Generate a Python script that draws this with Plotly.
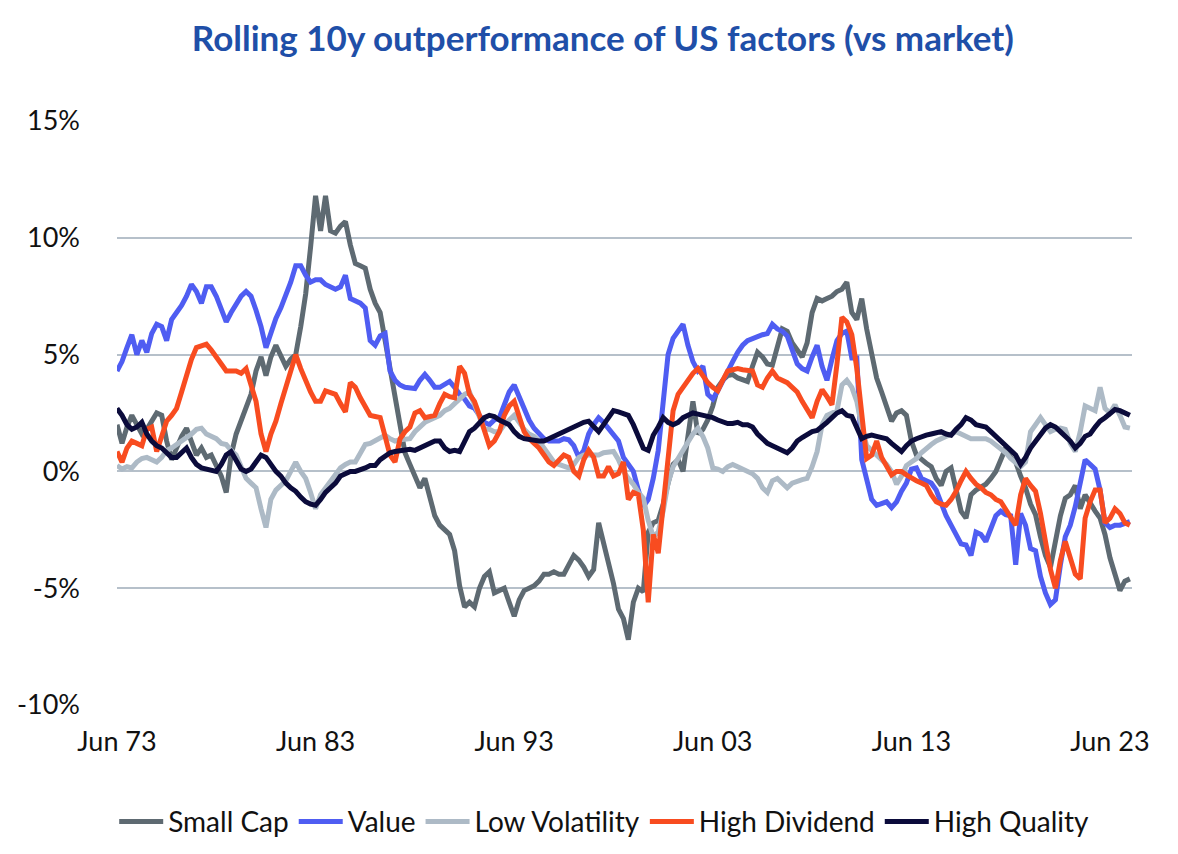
import pandas as pd
import plotly.graph_objects as go

# Quarterly observations, Jun 1973 .. Jun 2024 (values in %)
dates = pd.date_range("1973-06-01", periods=205, freq="3MS")

small_cap = [
    2.0, 1.2, 1.9, 2.4, 2.0, 1.6, 1.8, 2.2, 2.5, 2.4, 1.3, 0.5, 1.0, 1.5, 1.85, 1.2,
    0.7, 1.0, 0.6, 0.7, 0.3, -0.2, -0.9, 0.7, 1.6, 2.2, 2.8, 3.3, 4.3, 4.9, 4.1, 4.9,
    5.4, 4.9, 4.5, 4.8, 5.0, 6.2, 7.6, 9.6, 11.8, 10.3, 11.8, 10.3, 10.2, 10.5, 10.7, 9.7,
    8.9, 8.8, 8.7, 7.8, 7.2, 6.8, 5.6, 4.3, 3.2, 1.9, 0.8, 0.3, -0.2, -0.7, -0.3, -1.0,
    -1.9, -2.3, -2.5, -2.7, -3.4, -4.9, -5.8, -5.6, -5.8, -5.0, -4.5, -4.3, -5.2, -5.1, -5.0, -5.6,
    -6.2, -5.5, -5.1, -5.0, -4.9, -4.7, -4.4, -4.4, -4.3, -4.4, -4.4, -4.0, -3.6, -3.8, -4.1, -4.5,
    -4.2, -2.2, -3.0, -3.9, -4.8, -5.9, -6.3, -7.2, -5.6, -5.0, -5.15, -2.6, -2.2, -2.1, -1.4, -0.5,
    0.3, 0.5, 0.0, 1.5, 3.0, 1.6, 1.8, 2.2, 2.8, 3.6, 3.9, 4.1, 4.15, 4.0, 3.9, 3.85,
    4.5, 5.1, 4.9, 4.6, 4.55, 5.3, 6.1, 6.0, 5.5, 5.2, 4.9, 5.5, 6.8, 7.4, 7.3, 7.4,
    7.5, 7.7, 7.8, 8.1, 6.8, 6.5, 7.4, 6.1, 4.9, 4.0, 3.4, 2.8, 2.15, 2.5, 2.6, 2.4,
    1.3, 0.7, 0.5, 0.35, 0.2, -0.3, -0.6, 0.0, 0.15, -0.8, -1.7, -2.0, -1.0, -0.8, -0.7, -0.55,
    -0.3, 0.0, 0.5, 1.0, 0.6, 0.4, -0.2, -0.7, -1.4, -1.85, -2.8, -3.6, -4.1, -3.0, -1.9, -1.15,
    -1.0, -0.6, -1.6, -1.0, -1.4, -1.7, -2.0, -2.7, -3.7, -4.5, -5.1, -4.7, -4.6,
]

value = [
    4.3, 4.7, 5.3, 5.85, 5.0, 5.6, 5.1, 5.9, 6.3, 6.2, 5.6, 6.5, 6.8, 7.1, 7.5, 8.0,
    7.7, 7.2, 7.9, 7.9, 7.5, 7.0, 6.4, 6.8, 7.2, 7.5, 7.7, 7.5, 6.9, 6.2, 5.3, 6.0,
    6.55, 7.0, 7.55, 8.1, 8.8, 8.8, 8.4, 8.1, 8.2, 8.2, 8.0, 7.9, 7.8, 7.9, 8.4, 7.4,
    7.3, 7.2, 7.0, 5.6, 5.4, 5.8, 5.9, 4.3, 3.9, 3.7, 3.6, 3.55, 3.55, 3.9, 4.15, 3.9,
    3.6, 3.6, 3.7, 3.85, 3.6, 3.3, 3.1, 2.8, 2.7, 2.4, 2.1, 2.0, 2.2, 2.3, 2.9, 3.4,
    3.7, 3.2, 2.7, 2.2, 1.85, 1.6, 1.4, 1.3, 1.3, 1.3, 1.4, 1.35, 1.1, 0.6, 0.9, 1.6,
    2.0, 2.3, 2.1, 1.85, 1.6, 1.3, 0.6, 0.3, 0.0, -0.8, -1.5, -1.2, -0.3, 0.9, 3.0, 5.0,
    5.7, 6.0, 6.3, 5.4, 4.7, 4.3, 4.5, 3.3, 3.1, 3.45, 3.9, 4.3, 4.7, 5.1, 5.4, 5.6,
    5.7, 5.8, 5.85, 5.9, 6.3, 6.1, 6.0, 5.8, 5.2, 4.6, 4.4, 4.3, 4.9, 5.4, 4.5, 3.9,
    4.8, 5.6, 5.9, 6.0, 4.85, 4.85, 0.5, -0.3, -1.2, -1.45, -1.35, -1.3, -1.55, -1.3, -0.85, -0.5,
    0.1, 0.15, -0.3, -0.4, -0.5, -0.8, -1.4, -1.9, -2.3, -2.7, -3.1, -3.15, -3.6, -2.6, -2.7, -3.0,
    -2.5, -1.9, -1.7, -1.85, -1.9, -4.0, -1.8, -2.3, -3.3, -3.4, -4.5, -5.2, -5.7, -5.5, -4.0, -2.8,
    -2.3, -1.5, -0.5, 0.5, 0.3, 0.1, -0.8, -2.2, -2.4, -2.3, -2.3, -2.2, -2.15,
]

low_volatility = [
    0.25, 0.1, 0.2, 0.15, 0.4, 0.55, 0.6, 0.5, 0.4, 0.6, 0.9, 1.0, 1.15, 1.3, 1.4, 1.6,
    1.8, 1.85, 1.6, 1.5, 1.4, 1.2, 1.15, 0.9, 0.7, 0.2, -0.3, -0.5, -0.7, -1.6, -2.4, -1.2,
    -0.8, -0.6, -0.4, 0.0, 0.4, 0.0, -0.3, -0.9, -1.6, -1.0, -0.7, -0.4, -0.1, 0.15, 0.3, 0.4,
    0.4, 0.8, 1.15, 1.2, 1.3, 1.45, 1.55, 1.4, 1.3, 1.35, 1.4, 1.4, 1.7, 1.9, 2.1, 2.2,
    2.3, 2.4, 2.6, 2.7, 2.9, 3.1, 3.3, 3.4, 2.9, 2.3, 1.8, 1.8, 1.7, 1.7, 2.0, 2.2,
    2.4, 2.1, 1.8, 1.6, 1.5, 1.3, 1.0, 0.7, 0.4, 0.3, 0.2, 0.15, 0.3, 0.6, 0.7, 0.7,
    0.7, 0.7, 0.8, 0.85, 0.85, 0.5, 0.0, -0.3, -0.55, -0.9, -1.15, -2.1, -2.8, -2.6, -1.7, -0.5,
    0.2, 0.55, 0.9, 1.3, 1.6, 1.85, 1.5, 1.0, 0.15, 0.1, 0.0, 0.2, 0.3, 0.2, 0.1, 0.0,
    -0.1, -0.3, -0.7, -0.9, -0.4, -0.3, -0.5, -0.7, -0.5, -0.4, -0.35, -0.3, 0.2, 0.85, 2.0, 2.4,
    2.5, 2.6, 3.7, 3.9, 3.6, 3.0, 1.9, 1.1, 0.9, 0.7, 0.5, 0.3, 0.0, -0.55, -0.2, 0.25,
    0.4, 0.55, 0.8, 1.0, 1.15, 1.3, 1.4, 1.45, 1.55, 1.7, 1.6, 1.5, 1.4, 1.4, 1.4, 1.4,
    1.3, 1.15, 1.0, 0.8, 0.55, 0.4, 0.2, 0.4, 1.7, 2.0, 2.3, 2.0, 1.7, 1.8, 1.85, 1.8,
    1.2, 0.85, 1.7, 2.8, 2.7, 2.6, 3.6, 2.7, 2.5, 2.85, 2.4, 1.9, 1.85,
]

high_dividend = [
    0.85, 0.4, 1.0, 1.3, 1.2, 1.1, 1.8, 1.9, 0.85, 1.6, 2.15, 2.4, 2.7, 3.4, 4.15, 4.8,
    5.3, 5.4, 5.45, 5.2, 4.85, 4.6, 4.3, 4.3, 4.3, 4.2, 4.4, 3.7, 3.0, 1.6, 0.85, 1.6,
    2.15, 2.9, 3.55, 4.3, 5.0, 4.4, 3.85, 3.4, 3.0, 3.0, 3.45, 3.4, 3.3, 2.9, 2.55, 3.8,
    3.6, 3.15, 2.8, 2.4, 2.35, 2.3, 1.5, 0.7, 0.4, 1.4, 1.7, 1.9, 2.5, 2.6, 2.3, 2.35,
    2.4, 2.9, 3.3, 3.2, 3.15, 4.5, 4.2, 3.3, 3.0, 2.4, 1.8, 1.1, 1.3, 1.7, 2.4, 2.8,
    3.0, 2.3, 1.7, 1.4, 1.2, 1.0, 0.7, 0.4, 0.25, 0.5, 0.7, 0.6, 0.0, -0.2, 0.5, 0.9,
    0.6, -0.2, -0.2, 0.2, -0.2, -0.1, 0.4, -1.2, -0.9, -1.0, -2.5, -5.6, -2.7, -3.5, -1.5, 0.5,
    2.6, 3.3, 3.6, 3.9, 4.2, 4.4, 4.1, 3.8, 3.6, 3.45, 3.9, 4.3, 4.35, 4.4, 4.35, 4.3,
    4.3, 3.7, 3.6, 4.0, 4.3, 4.0, 3.9, 3.8, 3.6, 3.4, 3.0, 2.6, 2.3, 3.0, 3.5, 3.2,
    2.85, 4.6, 6.6, 6.4, 5.85, 4.4, 2.5, 0.55, 0.7, 1.3, 0.6, 0.2, -0.15, 0.0, 0.0, -0.15,
    -0.3, -0.4, -0.5, -0.6, -1.0, -1.3, -1.4, -1.45, -1.2, -0.85, -0.4, 0.0, -0.3, -0.55, -0.7, -0.9,
    -1.0, -1.2, -1.3, -1.6, -2.0, -2.3, -1.0, -0.3, -0.6, -0.85, -1.8, -3.0, -4.2, -5.0, -3.8, -3.0,
    -3.8, -4.4, -4.6, -2.0, -1.3, -0.8, -0.8, -2.2, -2.0, -1.6, -1.8, -2.2, -2.3,
]

high_quality = [
    2.7, 2.4, 2.0, 1.8, 1.9, 2.1, 1.6, 1.3, 1.1, 1.0, 0.8, 0.6, 0.6, 0.8, 1.0, 0.6,
    0.3, 0.15, 0.1, 0.0, 0.0, 0.3, 0.7, 0.85, 0.5, 0.1, 0.0, 0.1, 0.4, 0.7, 0.6, 0.3,
    0.0, -0.2, -0.5, -0.7, -0.85, -1.1, -1.3, -1.4, -1.45, -1.2, -0.9, -0.7, -0.5, -0.2, -0.1, 0.0,
    0.0, 0.05, 0.15, 0.25, 0.25, 0.5, 0.65, 0.8, 0.85, 0.9, 0.9, 0.95, 0.9, 1.0, 1.1, 1.2,
    1.3, 1.3, 1.0, 0.85, 0.9, 0.85, 1.3, 1.7, 1.85, 2.1, 2.3, 2.4, 2.35, 2.2, 2.1, 2.0,
    1.7, 1.5, 1.4, 1.35, 1.3, 1.3, 1.3, 1.4, 1.5, 1.6, 1.7, 1.8, 1.95, 2.0, 2.1, 2.15,
    1.9, 1.7, 2.0, 2.3, 2.6, 2.55, 2.5, 2.4, 2.0, 1.5, 1.0, 0.9, 1.55, 1.9, 2.3, 2.1,
    2.0, 2.1, 2.3, 2.4, 2.5, 2.45, 2.4, 2.4, 2.3, 2.2, 2.1, 2.05, 2.05, 2.1, 2.0, 2.0,
    1.9, 1.6, 1.4, 1.2, 1.1, 1.0, 0.85, 0.8, 1.0, 1.3, 1.45, 1.6, 1.7, 1.75, 1.9, 2.1,
    2.3, 2.5, 2.6, 2.4, 2.35, 1.8, 1.4, 1.5, 1.55, 1.5, 1.45, 1.4, 1.2, 1.0, 0.85, 1.1,
    1.3, 1.4, 1.5, 1.55, 1.6, 1.65, 1.7, 1.6, 1.55, 1.8, 2.0, 2.3, 2.2, 2.0, 1.95, 1.9,
    1.7, 1.5, 1.3, 1.1, 0.9, 0.7, 0.3, 0.6, 1.0, 1.3, 1.6, 1.85, 2.0, 1.9, 1.7, 1.5,
    1.3, 1.0, 1.2, 1.5, 1.6, 1.9, 2.15, 2.3, 2.5, 2.65, 2.6, 2.5, 2.4,
]

series = [
    ("Small Cap", small_cap, "#5E6A72"),
    ("Value", value, "#4F5DF2"),
    ("Low Volatility", low_volatility, "#ADBAC6"),
    ("High Dividend", high_dividend, "#F84C20"),
    ("High Quality", high_quality, "#0B0B3B"),
]

tick_dates = ["1973-06-01", "1983-06-01", "1993-06-01", "2003-06-01", "2013-06-01", "2023-06-01"]
tick_labels = ["Jun 73", "Jun 83", "Jun 93", "Jun 03", "Jun 13", "Jun 23"]
y_ticks = [-10, -5, 0, 5, 10, 15]
y_labels = ["-10%", "-5%", "0%", "5%", "10%", "15%"]

FONT = "Lato, 'Open Sans', sans-serif"

fig = go.Figure()
for name, vals, color in series:
    fig.add_trace(go.Scatter(
        x=dates, y=vals, name=name, mode="lines",
        line=dict(color=color, width=5),
    ))

fig.update_layout(
    width=1178, height=854,
    paper_bgcolor="white", plot_bgcolor="white",
    margin=dict(l=109, r=54, t=113, b=157, autoexpand=False),
    font=dict(family=FONT, size=27, color="#111111"),
    title=dict(
        text="<b>Rolling 10y outperformance of US factors (vs market)</b>",
        x=0.505, xanchor="center", y=0.964, yanchor="middle",
        font=dict(family=FONT, size=35, color="#1F4FA8"),
    ),
    showlegend=True,
    legend=dict(
        orientation="h", x=0.48, xanchor="center", y=-0.2, yanchor="middle",
        font=dict(family=FONT, size=28, color="#111111"),
        itemwidth=44, traceorder="normal",
    ),
)
fig.update_xaxes(
    range=["1973-06-01", "2024-07-10"],
    tickvals=tick_dates, ticktext=tick_labels,
    showgrid=False, zeroline=False, showline=False,
    ticks="", ticklabelstandoff=18,
    tickfont=dict(family=FONT, size=27, color="#111111"),
)
fig.update_yaxes(
    range=[-10, 15],
    tickvals=y_ticks, ticktext=y_labels,
    showgrid=True, gridcolor="#B6C0CA", gridwidth=2,
    zeroline=False, showline=False,
    ticks="", ticklabelstandoff=36,
    tickfont=dict(family=FONT, size=27, color="#111111"),
)

fig.write_html("out.html")
